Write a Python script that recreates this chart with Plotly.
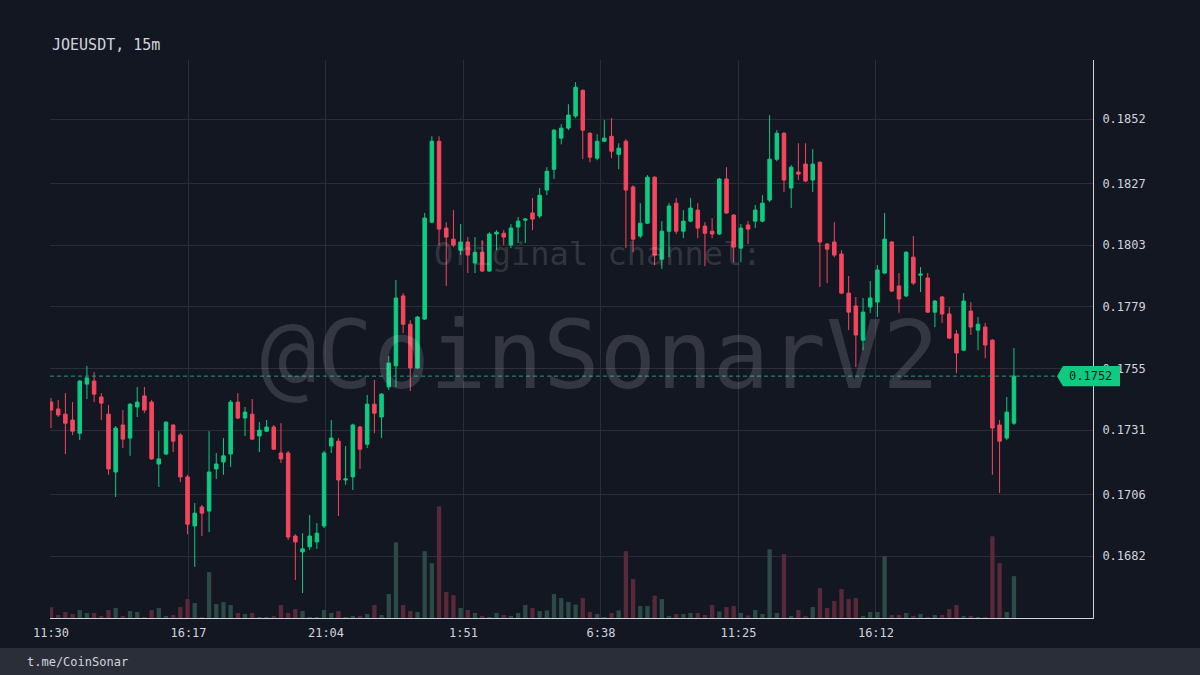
import plotly.graph_objects as go
import pandas as pd

chart_title = "JOEUSDT, 15m"
footer_text = "t.me/CoinSonar"
watermark_main = "@CoinSonarV2"
watermark_sub = "Original channel:"
start_time = "2023-01-01 11:30"

opens = [0.17419, 0.17392, 0.17372, 0.17349, 0.17298, 0.17489, 0.17501, 0.17439, 0.17372, 0.17147,
         0.17330, 0.17279, 0.17400, 0.17443, 0.17419, 0.17178, 0.17217, 0.17330, 0.17291, 0.17128,
         0.16937, 0.17011, 0.16995, 0.17159, 0.17186, 0.17217, 0.17419, 0.17357, 0.17372, 0.17287,
         0.17306, 0.17322, 0.17221, 0.17221, 0.16898, 0.16836, 0.16856, 0.16875, 0.16937, 0.17248,
         0.17267, 0.17116, 0.17128, 0.17322, 0.17255, 0.17411, 0.17361, 0.17478, 0.17560, 0.17832,
         0.17722, 0.17552, 0.17742, 0.18119, 0.18434, 0.18096, 0.18053, 0.18010, 0.18042, 0.17960,
         0.18002, 0.17929, 0.18073, 0.18076, 0.18030, 0.18100, 0.18127, 0.18155, 0.18143, 0.18244,
         0.18325, 0.18446, 0.18485, 0.18532, 0.18632, 0.18465, 0.18368, 0.18434, 0.18453, 0.18383,
         0.18434, 0.18256, 0.18065, 0.18115, 0.18294, 0.17975, 0.18084, 0.18193, 0.18084, 0.18123,
         0.18166, 0.18104, 0.18084, 0.18073, 0.18287, 0.18147, 0.18018, 0.18108, 0.18123, 0.18123,
         0.18205, 0.18364, 0.18465, 0.18252, 0.18314, 0.18345, 0.18283, 0.18352, 0.18034, 0.18042,
         0.17995, 0.17843, 0.17793, 0.17660, 0.17789, 0.17808, 0.17921, 0.18042, 0.17871, 0.17832,
         0.17983, 0.17913, 0.17902, 0.17769, 0.17828, 0.17762, 0.17684, 0.17621, 0.17773, 0.17699,
         0.17711, 0.17660, 0.17330, 0.17279, 0.17337]
highs = [0.17435, 0.17427, 0.17454, 0.17419, 0.17505, 0.17560, 0.17536, 0.17454, 0.17408, 0.17326,
         0.17388, 0.17415, 0.17478, 0.17478, 0.17427, 0.17306, 0.17345, 0.17332, 0.17298, 0.17136,
         0.17026, 0.17019, 0.17306, 0.17221, 0.17279, 0.17427, 0.17454, 0.17400, 0.17431, 0.17341,
         0.17349, 0.17330, 0.17337, 0.17229, 0.16905, 0.16909, 0.16980, 0.16948, 0.17229, 0.17349,
         0.17279, 0.17248, 0.17335, 0.17326, 0.17447, 0.17505, 0.17454, 0.17598, 0.17894, 0.17843,
         0.17738, 0.17754, 0.18155, 0.18453, 0.18453, 0.18119, 0.18166, 0.18112, 0.18061, 0.18061,
         0.18049, 0.18080, 0.18088, 0.18088, 0.18112, 0.18139, 0.18135, 0.18213, 0.18252, 0.18333,
         0.18481, 0.18500, 0.18578, 0.18664, 0.18636, 0.18469, 0.18461, 0.18516, 0.18524, 0.18426,
         0.18442, 0.18263, 0.18193, 0.18302, 0.18298, 0.18123, 0.18193, 0.18213, 0.18166, 0.18213,
         0.18193, 0.18119, 0.18135, 0.18291, 0.18333, 0.18151, 0.18112, 0.18123, 0.18186, 0.18224,
         0.18536, 0.18477, 0.18469, 0.18341, 0.18426, 0.18426, 0.18403, 0.18356, 0.18038, 0.18119,
         0.18010, 0.17910, 0.17828, 0.17824, 0.17890, 0.17952, 0.18155, 0.18045, 0.17921, 0.18006,
         0.18065, 0.17944, 0.17921, 0.17816, 0.17832, 0.17789, 0.17699, 0.17843, 0.17808, 0.17750,
         0.17727, 0.17664, 0.17349, 0.17439, 0.17629]
lows = [0.17318, 0.17361, 0.17217, 0.17291, 0.17271, 0.17431, 0.17419, 0.17349, 0.17136, 0.17050,
        0.17240, 0.17210, 0.17361, 0.17376, 0.17194, 0.17089, 0.17213, 0.17225, 0.17108, 0.16905,
        0.16778, 0.16898, 0.16913, 0.17120, 0.17136, 0.17167, 0.17353, 0.17287, 0.17271, 0.17225,
        0.17302, 0.17233, 0.17182, 0.16883, 0.16727, 0.16676, 0.16844, 0.16848, 0.16929, 0.17221,
        0.16976, 0.17097, 0.17077, 0.17159, 0.17240, 0.17298, 0.17279, 0.17466, 0.17478, 0.17687,
        0.17462, 0.17548, 0.17738, 0.18115, 0.18030, 0.17871, 0.18022, 0.17991, 0.17921, 0.17921,
        0.17925, 0.17925, 0.18010, 0.18030, 0.18018, 0.18038, 0.18038, 0.18088, 0.18135, 0.18224,
        0.18287, 0.18422, 0.18477, 0.18524, 0.18364, 0.18352, 0.18360, 0.18430, 0.18368, 0.18325,
        0.18018, 0.18002, 0.18057, 0.18112, 0.17952, 0.17937, 0.17983, 0.18073, 0.18057, 0.18119,
        0.18057, 0.17948, 0.18057, 0.18069, 0.18151, 0.17963, 0.17963, 0.18034, 0.18096, 0.18119,
        0.18197, 0.18356, 0.18236, 0.18174, 0.18283, 0.18275, 0.18236, 0.17867, 0.17882, 0.17983,
        0.17839, 0.17699, 0.17555, 0.17621, 0.17766, 0.17750, 0.17917, 0.17847, 0.17766, 0.17828,
        0.17875, 0.17847, 0.17766, 0.17711, 0.17727, 0.17664, 0.17532, 0.17618, 0.17680, 0.17621,
        0.17590, 0.17136, 0.17065, 0.17271, 0.17330]
closes = [0.17388, 0.17369, 0.17337, 0.17306, 0.17501, 0.17513, 0.17450, 0.17415, 0.17159, 0.17318,
          0.17275, 0.17411, 0.17419, 0.17388, 0.17198, 0.17198, 0.17341, 0.17267, 0.17128, 0.16944,
          0.16987, 0.16987, 0.17147, 0.17178, 0.17210, 0.17419, 0.17357, 0.17380, 0.17275, 0.17310,
          0.17322, 0.17236, 0.17198, 0.16894, 0.16875, 0.16848, 0.16898, 0.16909, 0.17221, 0.17279,
          0.17116, 0.17120, 0.17330, 0.17236, 0.17411, 0.17376, 0.17450, 0.17571, 0.17824, 0.17722,
          0.17552, 0.17750, 0.18135, 0.18434, 0.18092, 0.18061, 0.18030, 0.18042, 0.17991, 0.18002,
          0.17929, 0.18073, 0.18080, 0.18061, 0.18096, 0.18123, 0.18131, 0.18131, 0.18224, 0.18317,
          0.18477, 0.18485, 0.18536, 0.18644, 0.18477, 0.18372, 0.18434, 0.18446, 0.18395, 0.18407,
          0.18244, 0.18053, 0.18115, 0.18294, 0.17991, 0.18084, 0.18182, 0.18084, 0.18123, 0.18174,
          0.18096, 0.18076, 0.18073, 0.18287, 0.18155, 0.18022, 0.18096, 0.18092, 0.18166, 0.18193,
          0.18364, 0.18465, 0.18283, 0.18333, 0.18306, 0.18279, 0.18345, 0.18042, 0.18014, 0.17991,
          0.17843, 0.17769, 0.17680, 0.17769, 0.17824, 0.17933, 0.18053, 0.17851, 0.17820, 0.18002,
          0.17882, 0.17917, 0.17769, 0.17812, 0.17762, 0.17668, 0.17610, 0.17812, 0.17711, 0.17722,
          0.17641, 0.17318, 0.17267, 0.17380, 0.17520]
volumes = [10.7, 3, 6, 4, 8, 5, 5, 1.5, 8, 10,
           2, 7, 6, 1, 8, 10, 2, 3, 11, 19,
           15, 1, 46, 14, 16, 13, 5, 4, 5, 1,
           1, 2, 13, 5, 9, 7, 1, 1, 8, 5,
           7, 1, 2, 2, 4, 13, 3, 24, 76, 13,
           7, 6, 67, 55, 112, 26, 23, 10, 8, 5,
           2, 1, 5, 3, 2, 5, 13, 10, 7, 7.6,
           24, 20, 16, 13.5, 20, 6, 4, 1, 5, 7.6,
           67, 39, 12, 12, 22.5, 19, 1.5, 4, 4, 5,
           5, 3, 13, 6.5, 11, 12, 5, 2.5, 8, 4,
           69, 5, 64, 2, 8, 2, 11, 30, 10, 17,
           29, 19, 20, 2, 6, 6, 62, 3, 3, 5,
           2, 4, 1, 3, 3, 9, 13, 2, 2, 1,
           1, 82, 55, 6, 42]

time_tick_values = ["2023-01-01 11:30", "2023-01-01 16:17", "2023-01-01 21:04", "2023-01-02 01:51",
                    "2023-01-02 06:38", "2023-01-02 11:25", "2023-01-02 16:12"]
time_tick_labels = ["11:30", "16:17", "21:04", "1:51", "6:38", "11:25", "16:12"]
price_tick_values = [0.1852, 0.1827, 0.1803, 0.1779, 0.1755, 0.1731, 0.1706, 0.1682]
price_tick_labels = ["0.1852", "0.1827", "0.1803", "0.1779", "0.1755", "0.1731", "0.1706", "0.1682"]
x_range = ["2023-01-01 11:27:55", "2023-01-02 23:45"]
y_range = [0.16579, 0.18750]

BG = "#131722"
GRID = "#2a2e39"
TEXT = "#d1d4dc"
UP = "#0ecb81"
DOWN = "#f6465d"
UP_VOL = "#2c4b47"
DOWN_VOL = "#59293a"
FONT = "DejaVu Sans Mono"

times = pd.date_range(start_time, periods=len(opens), freq="15min")
vol_colors = [UP_VOL if c >= o else DOWN_VOL for o, c in zip(opens, closes)]
last_close = closes[-1]

fig = go.Figure()
fig.add_trace(go.Bar(x=times, y=volumes, marker=dict(color=vol_colors, line=dict(width=0)),
                     width=9 * 60 * 1000, yaxis="y2", hoverinfo="skip", showlegend=False))
fig.add_trace(go.Candlestick(
    x=times, open=opens, high=highs, low=lows, close=closes,
    increasing=dict(line=dict(color=UP, width=1), fillcolor=UP),
    decreasing=dict(line=dict(color=DOWN, width=1), fillcolor=DOWN),
    whiskerwidth=0, showlegend=False, hoverinfo="skip"))

tag_half = 0.00039
tag_tip, tag_shoulder, tag_right = 0.9655, 0.9712, 1.0259
shapes = [
    dict(type="rect", xref="paper", yref="paper", x0=-0.06, x1=1.12, y0=-0.11, y1=-0.0538,
         fillcolor="#2a2e39", line=dict(width=0), layer="below"),
    dict(type="line", xref="paper", yref="y", x0=0, x1=tag_tip, y0=last_close, y1=last_close,
         line=dict(color="#1e9c7c", width=1, dash="4px,3px"), layer="above"),
    dict(type="path", xref="paper", yref="y",
         path=(f"M {tag_tip},{last_close} L {tag_shoulder},{last_close + tag_half} "
               f"L {tag_right},{last_close + tag_half} L {tag_right},{last_close - tag_half} "
               f"L {tag_shoulder},{last_close - tag_half} Z"),
         fillcolor=UP, line=dict(width=0), layer="above"),
]

annotations = [
    dict(text=chart_title, xref="paper", yref="paper", x=0, y=1.0269, xanchor="left", yanchor="middle",
         showarrow=False, font=dict(family=FONT, size=15, color=TEXT)),
    dict(text=footer_text, xref="paper", yref="paper", x=-0.024, y=-0.0789, xanchor="left",
         yanchor="middle", showarrow=False, font=dict(family=FONT, size=12, color=TEXT)),
    dict(text=watermark_main, xref="paper", yref="paper", x=0.5273, y=0.471, xanchor="center",
         yanchor="middle", showarrow=False, font=dict(family=FONT, size=94, color="rgba(255,255,255,0.14)")),
    dict(text=watermark_sub, xref="paper", yref="paper", x=0.5254, y=0.652, xanchor="center",
         yanchor="middle", showarrow=False, font=dict(family=FONT, size=32, color="rgba(255,255,255,0.14)")),
    dict(text=f"{last_close:.4f}", xref="paper", yref="y", x=0.998, y=last_close, xanchor="center",
         yanchor="middle", showarrow=False, font=dict(family=FONT, size=12, color=BG)),
]

fig.update_layout(
    width=1200, height=675,
    margin=dict(l=50, r=107, t=60, b=57),
    paper_bgcolor=BG, plot_bgcolor=BG,
    showlegend=False,
    hovermode=False,
    font=dict(family=FONT, color=TEXT, size=12),
    shapes=shapes, annotations=annotations,
    xaxis=dict(type="date", range=x_range, tickvals=time_tick_values, ticktext=time_tick_labels,
               showgrid=True, gridcolor=GRID, gridwidth=1, zeroline=False,
               showline=True, linecolor=TEXT, linewidth=1, ticks="",
               tickfont=dict(family=FONT, size=12, color=TEXT), ticklabelstandoff=4,
               rangeslider=dict(visible=False)),
    yaxis=dict(side="right", range=y_range, tickvals=price_tick_values, ticktext=price_tick_labels,
               showgrid=True, gridcolor=GRID, gridwidth=1, zeroline=False,
               showline=True, linecolor=TEXT, linewidth=1, ticks="",
               tickfont=dict(family=FONT, size=12, color=TEXT), ticklabelstandoff=6),
    yaxis2=dict(overlaying="y", range=[0, max(volumes) * 5], visible=False, showgrid=False),
)

page_fix = ("document.body.style.margin='0';document.body.style.padding='0';"
            "document.body.style.background='#131722';document.body.style.overflow='hidden';")
fig.write_html("out.html", post_script=page_fix, config={"displayModeBar": False})
